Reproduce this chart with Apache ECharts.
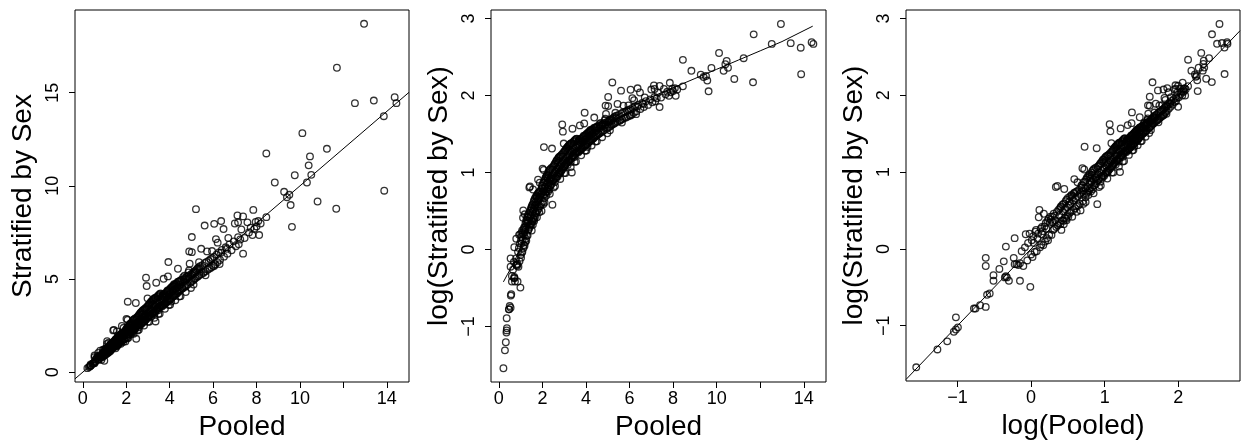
<!DOCTYPE html>
<html>
<head>
<meta charset="utf-8">
<script src="https://cdn.jsdelivr.net/npm/echarts@6/dist/echarts.min.js"></script>
<style>
html,body{margin:0;padding:0;background:#fff;}
#chart{width:1244px;height:440px;}
</style>
</head>
<body>
<div id="chart"></div>
<script>
// Pooled vs stratified-by-sex estimates, grouped by range
const pooled = [
  // low end
  0.21,0.28,0.32,0.36,0.36,0.37,0.35,0.46,0.47,0.50,
  0.54,0.55,0.57,0.54,0.54,0.60,0.60,0.65,0.69,0.71,
  0.80,0.70,0.71,0.72,0.74,0.79,0.80,0.82,0.84,0.86,
  0.86,0.99,
  // 0.85 - 1.3
  0.88,0.90,0.92,0.93,0.95,0.96,0.98,1.00,1.01,1.02,
  1.03,1.05,1.06,1.07,1.08,1.10,1.11,1.12,1.13,1.14,
  1.15,1.16,1.17,1.18,1.19,1.20,1.21,1.22,1.24,1.25,
  1.26,1.27,1.28,1.29,1.30,
  // 1.3 - 2.0
  1.31,1.32,1.33,1.35,1.36,1.37,1.38,1.40,1.41,1.42,
  1.43,1.44,1.45,1.46,1.48,1.49,1.50,1.51,1.52,1.53,
  1.55,1.56,1.57,1.58,1.60,1.61,1.62,1.64,1.65,1.66,
  1.68,1.69,1.70,1.72,1.73,1.75,1.76,1.78,1.79,1.80,
  1.82,1.84,1.85,1.87,1.88,1.90,1.92,1.94,1.96,1.98,
  // 2.0 - 2.8
  2.00,2.01,2.02,2.04,2.05,2.06,2.07,2.08,2.10,2.11,
  2.12,2.13,2.15,2.16,2.18,2.19,2.20,2.22,2.23,2.25,
  2.26,2.28,2.29,2.30,2.32,2.33,2.35,2.36,2.38,2.40,
  2.41,2.42,2.44,2.45,2.46,2.48,2.50,2.52,2.53,2.55,
  2.57,2.58,2.60,2.62,2.63,2.65,2.67,2.68,2.70,2.72,
  2.74,2.75,2.77,2.78,2.80,
  // 2.8 - 3.6
  2.82,2.83,2.85,2.86,2.88,2.90,2.91,2.92,2.94,2.95,
  2.97,2.98,3.00,3.01,3.03,3.04,3.06,3.07,3.09,3.10,
  3.12,3.13,3.15,3.16,3.18,3.20,3.21,3.23,3.25,3.26,
  3.28,3.30,3.32,3.33,3.35,3.35,3.37,3.38,3.40,3.42,
  3.44,3.45,3.47,3.48,3.50,3.52,3.53,3.55,3.57,3.58,
  3.60,
  // 3.6 - 4.6
  3.62,3.64,3.66,3.68,3.70,3.72,3.72,3.74,3.76,3.78,
  3.80,3.82,3.84,3.86,3.88,3.90,3.92,3.92,3.94,3.96,
  3.98,4.00,4.02,4.04,4.06,4.07,4.08,4.10,4.12,4.14,
  4.16,4.18,4.20,4.22,4.24,4.26,4.28,4.30,4.32,4.35,
  4.38,4.38,4.40,4.42,4.45,4.48,4.50,4.52,4.55,4.58,
  // 4.6 - 5.6
  4.60,4.63,4.66,4.70,4.72,4.75,4.78,4.80,4.83,4.86,
  4.89,4.90,4.92,4.95,4.98,5.00,5.02,5.02,5.05,5.08,
  5.10,5.13,5.15,5.18,5.21,5.22,5.25,5.28,5.30,5.33,
  5.36,5.40,5.45,5.50,5.55,
  // 5.5 - 8.5 scattered
  5.61,6.05,6.37,6.48,5.45,6.13,6.21,6.63,6.36,6.05,
  5.72,7.38,7.12,7.38,7.00,7.15,7.15,7.18,7.30,7.58,
  7.85,7.96,7.81,8.12,8.19,7.73,8.08,8.45,
  // 5.5 - 8.0 band
  5.58,5.62,5.66,5.70,5.75,5.80,5.84,5.88,5.92,5.96,
  6.00,6.04,6.10,6.15,6.20,6.26,6.32,6.40,6.50,6.58,
  6.66,6.75,6.85,6.95,7.05,7.25,7.45,7.65,7.90,8.00,
  // 1.0 - 5.4 centre of band
  1.04,1.09,1.16,1.23,1.34,1.39,1.47,1.54,1.59,1.63,
  1.67,1.71,1.77,1.83,1.89,1.93,1.97,2.03,2.09,2.14,
  2.21,2.27,2.34,2.39,2.43,2.49,2.56,2.61,2.66,2.71,
  2.79,2.84,2.89,2.96,3.02,3.08,3.14,3.19,3.24,3.31,
  3.36,3.43,3.49,3.56,3.63,3.69,3.77,3.85,3.95,4.05,
  4.15,4.25,4.36,4.47,4.62,4.76,4.88,5.04,5.20,5.38,
  // 1.5 - 6.7 edges of band
  1.50,1.62,1.74,1.86,1.98,2.10,2.22,2.34,2.46,2.58,
  2.70,2.82,2.94,3.06,3.18,3.30,3.42,3.54,3.66,3.78,
  3.90,4.02,4.14,4.26,4.38,4.50,4.62,4.74,4.86,4.98,
  1.56,1.80,2.04,2.28,2.52,2.76,3.00,3.24,3.48,3.72,
  3.96,4.20,4.44,4.68,5.10,5.35,5.65,5.95,6.30,6.70,
  // high values
  8.45,8.84,9.27,9.40,9.51,9.57,9.63,9.76,10.11,10.32,
  10.40,10.46,10.52,10.81,11.24,11.67,11.70,12.53,12.95,13.40,
  13.86,13.88,14.36,14.44
];
const stratified = [
  // low end
  0.214,0.27,0.30,0.41,0.35,0.36,0.34,0.46,0.46,0.48,
  0.47,0.55,0.56,0.89,0.80,0.71,0.66,0.77,0.85,1.03,
  1.15,0.69,0.70,0.69,0.66,0.89,0.82,0.82,0.81,0.83,
  0.66,0.61,
  // 0.85 - 1.3
  0.97,0.80,1.02,1.21,0.86,1.08,1.22,0.93,1.12,0.90,
  1.18,0.96,1.25,1.28,0.97,1.22,1.51,1.66,1.02,1.30,
  1.06,1.33,1.26,1.05,1.58,1.34,1.10,1.40,1.15,1.44,
  1.12,1.48,1.20,1.41,1.52,
  // 1.3 - 2.0
  1.46,1.20,1.52,1.28,1.58,1.30,1.54,2.24,1.33,1.62,
  2.27,1.36,1.66,1.40,1.70,1.38,1.72,1.28,1.45,1.78,
  1.44,1.80,2.18,1.50,1.86,1.48,1.90,1.55,1.94,1.52,
  1.85,1.60,1.98,1.62,2.02,1.52,1.96,1.66,2.06,2.48,
  1.70,2.10,1.74,2.12,2.38,1.76,2.16,1.80,1.65,2.22,
  // 2.0 - 2.8
  2.30,2.86,1.86,2.38,2.04,2.81,3.78,2.40,1.96,2.46,
  2.05,2.52,2.10,2.56,2.02,2.60,2.14,2.64,2.20,2.50,
  2.12,2.70,2.24,2.76,2.18,2.80,2.28,2.84,2.30,2.52,
  2.88,2.34,3.71,2.42,1.79,2.92,2.46,2.96,2.50,3.02,
  2.40,3.06,2.56,3.12,2.52,3.18,2.60,3.20,2.58,3.26,
  2.66,3.30,2.70,3.34,2.74,
  // 2.8 - 3.6
  2.70,3.36,2.76,3.40,2.80,3.44,5.07,2.84,4.62,3.50,
  2.90,3.96,3.56,2.94,3.60,2.98,3.64,3.02,3.70,3.06,
  3.74,3.10,3.78,3.00,3.82,3.14,3.86,3.18,3.90,3.22,
  3.94,3.12,3.98,3.26,3.98,2.72,3.30,4.80,3.36,4.04,
  3.40,4.08,3.32,4.12,3.46,4.16,3.50,4.20,3.54,4.22,
  3.58,
  // 3.6 - 4.6
  4.00,3.52,4.06,3.58,4.10,3.62,5.01,4.14,3.66,4.20,
  3.70,4.24,3.74,4.30,3.78,4.34,5.14,3.82,5.91,4.40,
  3.86,4.44,3.90,4.50,3.94,3.79,4.54,4.00,4.58,4.04,
  4.62,4.08,4.66,4.12,4.70,4.16,4.74,4.20,4.78,4.24,
  5.55,4.30,4.84,4.34,4.88,4.40,4.92,4.44,4.96,4.50,
  // 4.6 - 5.6
  4.50,4.98,4.56,5.02,4.60,5.08,4.66,5.14,4.70,5.18,
  5.46,6.48,5.82,4.80,5.26,4.86,7.25,6.44,5.30,4.92,
  5.36,4.98,5.42,5.04,8.75,5.48,5.10,5.56,5.14,5.62,
  5.20,5.68,5.26,5.74,5.32,
  // 5.5 - 8.5 scattered
  7.87,7.96,8.11,7.68,6.62,7.14,6.95,6.62,6.41,5.70,
  6.48,6.36,8.41,8.36,7.98,8.04,7.24,6.86,7.66,8.04,
  8.71,8.06,7.36,7.36,7.98,7.75,8.11,8.32,
  // 5.5 - 8.0 band
  5.38,5.86,5.42,5.92,5.50,5.98,5.56,6.06,5.62,6.12,
  5.70,6.18,5.78,6.30,5.90,6.42,6.02,6.56,6.20,6.70,
  6.36,6.86,6.54,7.02,6.76,7.12,7.20,7.50,7.70,7.82,
  // 1.0 - 5.4 centre of band
  1.08,1.14,1.21,1.30,1.42,1.45,1.55,1.63,1.68,1.72,
  1.77,1.79,1.88,1.93,1.99,2.04,2.07,2.14,2.21,2.25,
  2.33,2.40,2.47,2.52,2.56,2.63,2.70,2.76,2.81,2.86,
  2.94,3.00,3.05,3.12,3.18,3.25,3.31,3.36,3.42,3.49,
  3.55,3.62,3.68,3.76,3.83,3.89,3.98,4.06,4.16,4.26,
  4.36,4.46,4.57,4.68,4.83,4.96,5.06,5.22,5.36,5.52,
  // 1.5 - 6.7 edges of band
  1.74,1.45,2.00,1.62,2.28,1.84,2.55,2.06,2.82,2.28,
  3.08,2.50,3.35,2.70,3.60,2.92,3.88,3.14,4.12,3.40,
  4.38,3.62,4.60,3.86,4.86,4.08,5.10,4.30,5.35,4.52,
  1.38,2.08,1.80,2.62,2.24,3.14,2.70,3.66,3.12,4.20,
  3.60,4.72,4.06,5.18,4.70,5.90,5.20,6.50,5.80,7.20,
  // high values
  11.74,10.18,9.68,9.39,9.52,8.97,7.80,10.57,12.83,10.18,
  11.10,11.58,10.59,9.16,11.99,8.77,16.34,14.44,18.70,14.58,
  13.74,9.74,14.76,14.44
];

// smooth fit drawn in the middle panel
const fitX = [0.21,0.4,0.6,0.8,1.0,1.25,1.5,1.75,2.0,2.5,3.0,3.5,4.0,4.5,5.0,5.5,6.0,7.0,8.0,9.0,10.0,11.0,12.0,13.0,14.41];
const fitY = [-0.42,-0.32,-0.22,-0.1,0.03,0.2,0.37,0.53,0.68,0.92,1.11,1.27,1.41,1.54,1.65,1.75,1.84,1.98,2.1,2.22,2.34,2.46,2.58,2.70,2.9];

// axis ranges and ticks
const rawRange = [-0.36, 15.02];
const rawStratRange = [-0.53, 19.44];
const logRangeX = [-1.70, 2.84];
const logRangeY = [-1.72, 3.11];
const rawTicks = [0,2,4,6,8,10,12,14];
const rawTickLabels = [0,2,4,6,8,10,14];
const stratTicks = [0,5,10,15];
const logTicksX = [-1,0,1,2];
const logTicksY = [-1,0,1,2,3];

const n = Math.min(pooled.length, stratified.length);
const p1 = [], p2 = [], p3 = [];
for (let i = 0; i < n; i++) {
  p1.push([pooled[i], stratified[i]]);
  p2.push([pooled[i], Math.log(stratified[i])]);
  p3.push([Math.log(pooled[i]), Math.log(stratified[i])]);
}
const fit = fitX.map((x, i) => [x, fitY[i]]);

const FONT = '"Liberation Sans", Arial, Helvetica, sans-serif';
const fmt = v => String(v).replace('-', '\u2212');

function xAxis(idx, range, ticks, labels, name) {
  return {
    gridIndex: idx, type: 'value', min: range[0], max: range[1],
    axisLine: {show: false, onZero: false},
    axisTick: {show: true, length: 6, customValues: ticks, lineStyle: {color: '#000', width: 1}},
    axisLabel: {customValues: labels, color: '#000', fontSize: 18, fontFamily: FONT, margin: 8, formatter: fmt},
    splitLine: {show: false},
    name: name, nameLocation: 'middle', nameGap: 19,
    nameTextStyle: {fontSize: 28, color: '#000', fontFamily: FONT}
  };
}
function yAxis(idx, range, ticks, name) {
  return {
    gridIndex: idx, type: 'value', min: range[0], max: range[1],
    axisLine: {show: false, onZero: false},
    axisTick: {show: true, length: 6, customValues: ticks, lineStyle: {color: '#000', width: 1}},
    axisLabel: {customValues: ticks, color: '#000', fontSize: 18, fontFamily: FONT, margin: 13, rotate: 90, formatter: fmt},
    splitLine: {show: false},
    name: name, nameLocation: 'middle', nameGap: 38,
    nameTextStyle: {fontSize: 28, color: '#000', fontFamily: FONT}
  };
}
const pointStyle = {color: 'rgba(255,255,255,0)', borderColor: '#000', borderWidth: 1.3};
function scatter(idx, data) {
  return {type: 'scatter', xAxisIndex: idx, yAxisIndex: idx, data: data,
    symbol: 'circle', symbolSize: 6.6, itemStyle: pointStyle, silent: true, z: 3};
}
function line(idx, data) {
  return {type: 'line', xAxisIndex: idx, yAxisIndex: idx, data: data, showSymbol: false,
    symbol: 'none', lineStyle: {color: '#000', width: 1}, clip: true, silent: true, z: 2};
}
function grid(left, width, height) {
  return {left: left, top: 10, width: width, height: height, show: true,
    borderColor: '#000', borderWidth: 1, backgroundColor: 'transparent',
    containLabel: false, outerBoundsMode: 'none'};
}

const chart = echarts.init(document.getElementById('chart'), null, {renderer: 'canvas'});
chart.setOption({
  animation: false,
  backgroundColor: '#fff',
  grid: [grid(75, 334, 372), grid(491, 335, 372), grid(906, 334, 371)],
  xAxis: [
    xAxis(0, rawRange, rawTicks, rawTickLabels, 'Pooled'),
    xAxis(1, rawRange, rawTicks, rawTickLabels, 'Pooled'),
    xAxis(2, logRangeX, logTicksX, logTicksX, 'log(Pooled)')
  ],
  yAxis: [
    yAxis(0, rawStratRange, stratTicks, 'Stratified by Sex'),
    yAxis(1, logRangeY, logTicksY, 'log(Stratified by Sex)'),
    yAxis(2, logRangeY, logTicksY, 'log(Stratified by Sex)')
  ],
  series: [
    line(0, [[rawRange[0], rawRange[0]], [rawRange[1], rawRange[1]]]),
    scatter(0, p1),
    line(1, fit),
    scatter(1, p2),
    line(2, [[logRangeX[0], logRangeX[0]], [logRangeX[1], logRangeX[1]]]),
    scatter(2, p3)
  ]
});
</script>
</body>
</html>
